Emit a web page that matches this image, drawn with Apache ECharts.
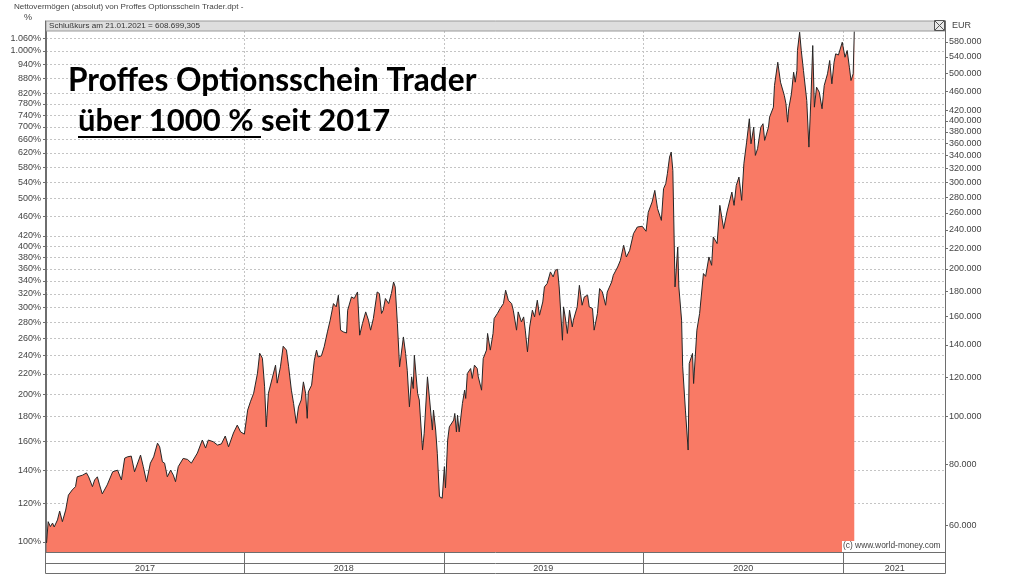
<!DOCTYPE html>
<html><head><meta charset="utf-8">
<script src="https://cdn.jsdelivr.net/npm/echarts@6/dist/echarts.min.js"></script>
<style>html,body{margin:0;padding:0;background:#fff}#c{width:1024px;height:576px}</style>
</head><body><div id="c"></div><script>
// ---- data (EUR) ----
const dates = [
'2017-01-04','2017-01-07','2017-01-11','2017-01-15','2017-01-18','2017-01-24','2017-01-28','2017-02-02','2017-02-08','2017-02-13',
'2017-02-20','2017-02-26','2017-03-01','2017-03-11','2017-03-18','2017-03-22','2017-03-29','2017-04-02','2017-04-07','2017-04-11',
'2017-04-16','2017-04-25','2017-05-05','2017-05-14','2017-05-21','2017-05-27','2017-06-01','2017-06-08','2017-06-14','2017-06-25',
'2017-06-30','2017-07-06','2017-07-13','2017-07-19','2017-07-26','2017-07-30','2017-08-04','2017-08-08','2017-08-13','2017-08-19',
'2017-08-24','2017-08-28','2017-09-02','2017-09-11','2017-09-19','2017-09-26','2017-10-07','2017-10-16','2017-10-22','2017-10-27',
'2017-11-05','2017-11-13','2017-11-20','2017-11-27','2017-12-03','2017-12-12','2017-12-19','2017-12-25',
'2018-01-01','2018-01-07','2018-01-12','2018-01-18','2018-01-25','2018-01-29','2018-02-03','2018-02-07','2018-02-10','2018-02-14',
'2018-02-21','2018-02-27','2018-03-02','2018-03-08','2018-03-13','2018-03-19','2018-03-23','2018-03-28','2018-04-01','2018-04-06',
'2018-04-10','2018-04-15','2018-04-19','2018-04-23','2018-04-26','2018-04-28','2018-05-04','2018-05-09','2018-05-13','2018-05-16',
'2018-05-22','2018-05-27','2018-06-02','2018-06-07','2018-06-13','2018-06-18','2018-06-22','2018-06-26','2018-07-01','2018-07-07',
'2018-07-09','2018-07-16','2018-07-21','2018-07-27','2018-07-31','2018-08-05','2018-08-11','2018-08-16','2018-08-20','2018-08-25',
'2018-09-01','2018-09-05','2018-09-09','2018-09-12','2018-09-16','2018-09-22','2018-09-27','2018-10-01','2018-10-04','2018-10-08',
'2018-10-12','2018-10-19','2018-10-23','2018-10-26','2018-10-30','2018-11-03','2018-11-06','2018-11-08','2018-11-14','2018-11-17',
'2018-11-23','2018-11-26','2018-12-02','2018-12-06','2018-12-11','2018-12-13','2018-12-17','2018-12-20','2018-12-24','2018-12-29',
'2019-01-02','2019-01-04','2019-01-08','2019-01-11','2019-01-19','2019-01-21','2019-01-24','2019-01-26','2019-01-29','2019-02-04',
'2019-02-08','2019-02-10','2019-02-13','2019-02-19','2019-02-22','2019-02-26','2019-03-03','2019-03-05','2019-03-11','2019-03-14',
'2019-03-20','2019-03-22','2019-03-27','2019-04-01','2019-04-03','2019-04-09','2019-04-14','2019-04-20','2019-04-24','2019-04-29',
'2019-05-05','2019-05-08','2019-05-14','2019-05-17','2019-05-23','2019-05-27','2019-05-30','2019-06-03','2019-06-07','2019-06-12',
'2019-06-16','2019-06-21','2019-06-25','2019-07-01','2019-07-04','2019-07-09','2019-07-15','2019-07-20','2019-07-24','2019-07-28',
'2019-07-31','2019-08-06','2019-08-08','2019-08-11','2019-08-15','2019-08-19','2019-08-24','2019-08-26','2019-09-02','2019-09-06',
'2019-09-11','2019-09-15','2019-09-21','2019-09-24','2019-09-30','2019-10-03','2019-10-09','2019-10-13','2019-10-18','2019-10-24',
'2019-10-27','2019-11-04','2019-11-07','2019-11-15','2019-11-20','2019-11-26','2019-12-01','2019-12-07','2019-12-14','2019-12-21',
'2019-12-30',
'2020-01-06','2020-01-10','2020-01-17','2020-01-22','2020-01-27','2020-02-03','2020-02-07','2020-02-11','2020-02-14','2020-02-18',
'2020-02-21','2020-02-24','2020-02-26','2020-02-28','2020-03-04','2020-03-06','2020-03-11','2020-03-13','2020-03-18','2020-03-23',
'2020-03-25','2020-03-31','2020-04-02','2020-04-08','2020-04-13','2020-04-20','2020-04-24','2020-04-30','2020-05-05','2020-05-08',
'2020-05-15','2020-05-20','2020-05-22','2020-05-27','2020-06-02','2020-06-05','2020-06-11','2020-06-15','2020-06-19','2020-06-24',
'2020-06-29','2020-07-03','2020-07-08','2020-07-13','2020-07-16','2020-07-21','2020-07-24','2020-07-28','2020-08-03','2020-08-07',
'2020-08-10','2020-08-17','2020-08-19','2020-08-26','2020-08-28','2020-09-03','2020-09-08','2020-09-15','2020-09-18','2020-09-21',
'2020-09-23','2020-09-28','2020-10-02','2020-10-05','2020-10-08','2020-10-09','2020-10-13','2020-10-16','2020-10-20','2020-10-26',
'2020-10-30','2020-11-03','2020-11-06','2020-11-09','2020-11-13','2020-11-18','2020-11-23','2020-11-27','2020-12-03','2020-12-07',
'2020-12-11','2020-12-15','2020-12-18','2020-12-23','2020-12-30',
'2021-01-04','2021-01-08','2021-01-12','2021-01-15','2021-01-19','2021-01-21'
];
const values = [
55300,61100,59700,60700,59600,61600,64200,61100,64500,69200,
70900,72000,75400,76000,76800,75400,72000,74300,75400,72600,
69600,72600,77200,77800,74300,82300,82800,83100,77200,83500,
79100,73700,80400,82800,88300,86800,80900,80400,75400,77800,
76000,73700,79100,82200,81800,80400,84300,89600,86300,89600,
88900,87500,88000,91300,86800,92600,96100,93100,
92100,103100,107200,111600,122600,134600,131500,115000,95300,111600,
119800,127300,117000,126300,139100,136600,126300,113200,106400,96900,
104700,108100,117700,111600,99200,112300,115900,130300,136600,132300,
133000,138700,148800,157200,169900,167300,176700,150000,148800,148000,
164700,175300,174000,179400,146500,154700,163400,157200,150000,158400,
179400,178100,162200,164700,174000,169900,178100,188000,183700,154700,
126300,145300,134500,124300,104700,120500,114100,133400,111500,108100,
85500,92500,120500,108100,93900,103100,93900,84200,68700,68200,
79100,71600,89600,95300,98400,101500,93100,100700,93100,106400,
113200,108900,122400,125300,119600,127300,125300,120500,113200,131300,
136600,147700,136600,147700,158400,162200,166000,169900,180900,172600,
169900,164700,150000,163400,155900,159600,150000,135500,152300,164700,
159600,172600,160900,171200,183700,186600,197100,192500,198600,199500,
183700,143100,167300,159600,147700,164700,152300,157200,167300,185100,
168600,175300,176700,167300,166000,150000,162200,182300,179400,168600,
179400,188000,194000,201700,208100,223300,211400,218100,235900,243300,
244100,
238500,260600,273500,288900,265200,251000,291200,298100,312400,337700,
345700,317300,243300,183700,221500,183700,157200,126300,103100,85500,
128300,134500,116800,150000,162200,195600,193000,211400,203300,232200,
225100,269300,267200,241500,261000,259000,286600,269300,295700,307500,
275700,327400,362200,404200,359500,388600,340400,351200,388600,394900,
365200,388600,407300,426800,472500,526900,479800,450800,433600,397800,
423600,454400,502800,479800,506900,556600,606500,556600,506900,440400,
353900,454400,569800,426800,468700,457800,423600,472500,499100,531200,
476200,526900,548100,545000,578700,
539400,556600,514700,483600,499100,608699
];
const pctTicks = [100,120,140,160,180,200,220,240,260,280,300,320,340,360,380,400,420,460,500,540,580,620,660,700,740,780,820,880,940,1000,1060];
const eurTicks = [60000,80000,100000,120000,140000,160000,180000,200000,220000,240000,260000,280000,300000,320000,340000,360000,380000,400000,420000,460000,500000,540000,580000];
const yearLabels = ['2017','2018','2019','2020','2021'];
const yearLabelDates = ['2017-07-03','2018-07-02','2019-07-02','2020-07-02','2021-04-05'];
const yearBoundaries = ['2018-01-01','2019-01-01','2020-01-01','2021-01-01'];
const EUR_AT_100_PCT = 55556;
const EUR_MIN = 53000, EUR_MAX = 610000;
const X_MIN = '2017-01-03', X_MAX = '2021-07-06';

// ---- helpers ----
const dayNum = s => Math.round(Date.parse(s + 'T00:00:00Z') / 864e5);
const grp = n => String(n).replace(/\B(?=(\d{3})+(?!\d))/g, '.');
const FONT = 'Liberation Sans';
const seriesData = dates.map((d, i) => [dayNum(d), Math.log(values[i])]);
const labelDays = yearLabelDates.map(dayNum);

const chart = echarts.init(document.getElementById('c'), null, {renderer: 'canvas'});
chart.setOption({
  animation: false,
  backgroundColor: '#ffffff',
  grid: {left: 46, right: 79, top: 31, bottom: 24, containLabel: false},
  xAxis: {
    type: 'value', min: dayNum(X_MIN), max: dayNum(X_MAX),
    axisLine: {show: true, lineStyle: {color: '#6e6e6e', width: 1}},
    axisTick: {show: true, customValues: yearBoundaries.map(dayNum), length: 21, lineStyle: {color: '#6e6e6e'}},
    axisLabel: {
      customValues: labelDays, margin: 12, fontSize: 9, color: '#444', fontFamily: FONT,
      formatter: v => {
        let best = 0;
        labelDays.forEach((d, i) => { if (Math.abs(d - v) < Math.abs(labelDays[best] - v)) best = i; });
        return yearLabels[best];
      }
    },
    splitLine: {show: true, lineStyle: {color: '#c4c4c4', type: [2, 2], width: 1}}
  },
  yAxis: [
    {
      type: 'value', position: 'left',
      min: Math.log(EUR_MIN / EUR_AT_100_PCT * 100), max: Math.log(EUR_MAX / EUR_AT_100_PCT * 100),
      name: '%', nameLocation: 'end', nameGap: 9,
      nameTextStyle: {fontSize: 9, color: '#444', fontFamily: FONT, align: 'right', padding: [0, 14, 0, 0]},
      axisLine: {show: true, lineStyle: {color: '#6e6e6e'}},
      axisTick: {show: true, customValues: pctTicks.map(Math.log), length: 3, lineStyle: {color: '#6e6e6e'}},
      axisLabel: {customValues: pctTicks.map(Math.log), margin: 5, fontSize: 9, color: '#444', fontFamily: FONT,
        formatter: v => grp(Math.round(Math.exp(v))) + '%'},
      splitLine: {show: true, lineStyle: {color: '#c4c4c4', type: [2, 2], width: 1}}
    },
    {
      type: 'value', position: 'right',
      min: Math.log(EUR_MIN), max: Math.log(EUR_MAX),
      name: 'EUR', nameLocation: 'end', nameGap: 1,
      nameTextStyle: {fontSize: 9, color: '#444', fontFamily: FONT, align: 'left', padding: [0, 0, 0, 7]},
      axisLine: {show: true, lineStyle: {color: '#6e6e6e'}},
      axisTick: {show: true, customValues: eurTicks.map(Math.log), length: 3, lineStyle: {color: '#6e6e6e'}},
      axisLabel: {customValues: eurTicks.map(Math.log), margin: 4, fontSize: 9, color: '#444', fontFamily: FONT,
        formatter: v => grp(Math.round(Math.exp(v) / 1000) * 1000)},
      splitLine: {show: false}
    }
  ],
  series: [{
    type: 'line', yAxisIndex: 1, data: seriesData, showSymbol: false, symbol: 'none',
    lineStyle: {color: '#262626', width: 1},
    areaStyle: {color: '#f97a65', opacity: 1, origin: 'start'},
    silent: true
  }],
  graphic: [
    {type: 'text', left: 14, top: 3, z: 100, style: {text: 'Nettovermögen (absolut) von Proffes Optionsschein Trader.dpt -', font: '8.1px "Liberation Sans"', fill: '#444'}},
    {type: 'rect', shape: {x: 46, y: 21, width: 899, height: 10}, z: 100, style: {fill: '#dedede', stroke: '#9a9a9a', lineWidth: 1}},
    {type: 'text', left: 49, top: 21.5, z: 101, style: {text: 'Schlußkurs am 21.01.2021 = 608.699,305', font: '8.1px "Liberation Sans"', fill: '#333'}},
    {type: 'rect', shape: {x: 934.5, y: 20.5, width: 10, height: 10}, z: 101, style: {fill: '#e8e8e8', stroke: '#555', lineWidth: 1}},
    {type: 'line', shape: {x1: 935, y1: 21, x2: 944, y2: 30}, z: 102, style: {stroke: '#555', lineWidth: 1}},
    {type: 'line', shape: {x1: 944, y1: 21, x2: 935, y2: 30}, z: 102, style: {stroke: '#555', lineWidth: 1}},
    {type: 'line', shape: {x1: 45.5, y1: 20.5, x2: 45.5, y2: 573.5}, z: 100, style: {stroke: '#6e6e6e', lineWidth: 1}},
    {type: 'line', shape: {x1: 945.5, y1: 20.5, x2: 945.5, y2: 573.5}, z: 100, style: {stroke: '#6e6e6e', lineWidth: 1}},
    {type: 'line', shape: {x1: 45.5, y1: 563.5, x2: 945.5, y2: 563.5}, z: 100, style: {stroke: '#6e6e6e', lineWidth: 1}},
    {type: 'line', shape: {x1: 45.5, y1: 573.5, x2: 945.5, y2: 573.5}, z: 100, style: {stroke: '#6e6e6e', lineWidth: 1}},
    {type: 'rect', shape: {x: 842, y: 541, width: 103, height: 11}, z: 100, style: {fill: '#ffffff'}},
    {type: 'text', left: 843, top: 542, z: 101, style: {text: '(c) www.world-money.com', font: '8.4px "Liberation Sans"', fill: '#444'}},
    {type: 'text', left: 68, top: 65, z: 100, style: {text: 'Proffes Optionsschein Trader', font: 'bold 31.6px "Lato"', fill: '#000'}},
    {type: 'text', left: 78, top: 105, z: 100, style: {text: 'über 1000 % seit 2017', font: 'bold 31px "Lato"', fill: '#000'}},
    {type: 'line', shape: {x1: 78, y1: 137, x2: 261, y2: 137}, z: 100, style: {stroke: '#000', lineWidth: 2}}
  ]
});
</script></body></html>
